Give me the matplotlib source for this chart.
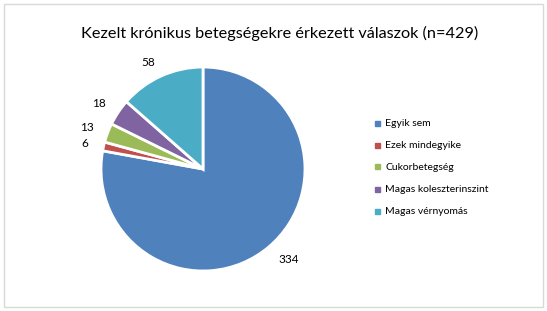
import matplotlib.pyplot as plt
from matplotlib.patches import Rectangle

# adatok
categories = ["Egyik sem", "Ezek mindegyike", "Cukorbetegség",
              "Magas koleszterinszint", "Magas vérnyomás"]
values = [334, 6, 13, 18, 58]
colors = ["#4F81BD", "#C0504D", "#9BBB59", "#8064A2", "#4BACC6"]
title = "Kezelt krónikus betegségekre érkezett válaszok (n=429)"

plt.rcParams['font.family'] = ['Lato', 'DejaVu Sans']

fig = plt.figure(figsize=(5.47, 3.11), dpi=100)
# keret
fig.patches.append(Rectangle((4 / 547, 4 / 311), 539 / 547, 303 / 311,
                             transform=fig.transFigure, fill=False,
                             edgecolor="#D9D9D9", linewidth=1))

ax = fig.add_axes([100 / 547, 1 - 272 / 311, 206 / 547, 206 / 311])
wedges, texts = ax.pie(values, colors=colors, startangle=90, counterclock=False,
                       labels=[str(v) for v in values], labeldistance=1.15,
                       wedgeprops=dict(edgecolor="white", linewidth=2),
                       textprops=dict(fontsize=8.5, color="#000000"))
ax.set_xlim(-1.01, 1.01)
ax.set_ylim(-1.01, 1.01)
ax.set_aspect("equal")

fig.text(280 / 547, 1 - 33 / 311, title, ha="center", va="center", fontsize=11.7)

# jelmagyarázat
for i, (cat, col) in enumerate(zip(categories, colors)):
    y = 1 - (123 + i * 22) / 311
    fig.patches.append(Rectangle((375 / 547, y - 2.5 / 311), 5 / 547, 5 / 311,
                                 transform=fig.transFigure, color=col))
    fig.text(385 / 547, y, cat, ha="left", va="center", fontsize=7.5)

fig.savefig("out.png", dpi=100)
